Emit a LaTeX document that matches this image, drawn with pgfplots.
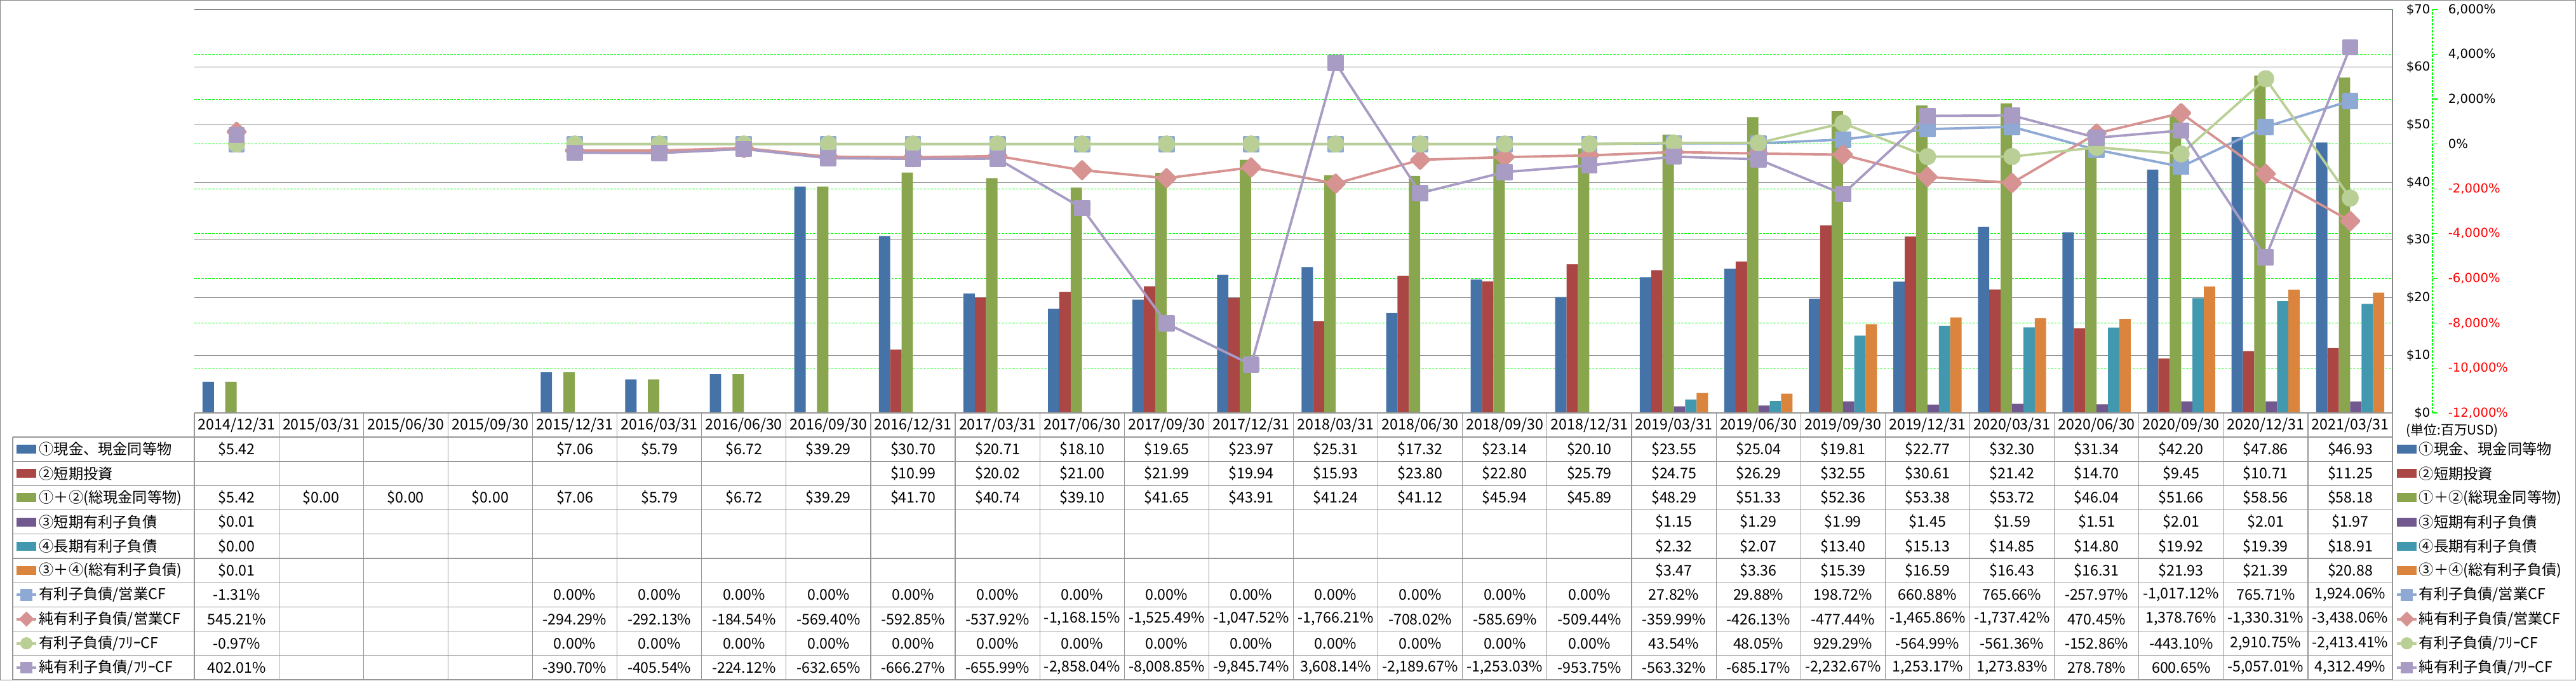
\documentclass[border=0pt]{standalone}
\usepackage{fontspec}
\usepackage{pgfplots}
\usepackage{pgfplotstable}
\pgfplotsset{compat=1.18}
\setmainfont{DejaVu Sans}
\newfontfamily\jp{Noto Sans CJK JP}
\definecolor{cB}{HTML}{4572A7}
\definecolor{cR}{HTML}{AA4643}
\definecolor{cG}{HTML}{89A54E}
\definecolor{cP}{HTML}{71588F}
\definecolor{cT}{HTML}{4198AF}
\definecolor{cO}{HTML}{DB843D}
\definecolor{lA}{HTML}{8FA9D5}
\definecolor{lB}{HTML}{D69391}
\definecolor{lC}{HTML}{BACF95}
\definecolor{lD}{HTML}{A89BC4}
\definecolor{gridgray}{HTML}{868686}
\definecolor{tblgray}{HTML}{969696}
\definecolor{grn}{HTML}{00FF00}
\newcommand\tlf{\fontsize{4.9pt}{5.9pt}\selectfont}
\newcommand\tbf{\jp\fontsize{5.8pt}{6.8pt}\selectfont}

\pgfplotstableread{
x cash sti tot std ltd totd
0 5.42 nan 5.42 0.01 0.00 0.01
1 nan nan 0.00 nan nan nan
2 nan nan 0.00 nan nan nan
3 nan nan 0.00 nan nan nan
4 7.06 nan 7.06 nan nan nan
5 5.79 nan 5.79 nan nan nan
6 6.72 nan 6.72 nan nan nan
7 39.29 nan 39.29 nan nan nan
8 30.70 10.99 41.70 nan nan nan
9 20.71 20.02 40.74 nan nan nan
10 18.10 21.00 39.10 nan nan nan
11 19.65 21.99 41.65 nan nan nan
12 23.97 19.94 43.91 nan nan nan
13 25.31 15.93 41.24 nan nan nan
14 17.32 23.80 41.12 nan nan nan
15 23.14 22.80 45.94 nan nan nan
16 20.10 25.79 45.89 nan nan nan
17 23.55 24.75 48.29 1.15 2.32 3.47
18 25.04 26.29 51.33 1.29 2.07 3.36
19 19.81 32.55 52.36 1.99 13.40 15.39
20 22.77 30.61 53.38 1.45 15.13 16.59
21 32.30 21.42 53.72 1.59 14.85 16.43
22 31.34 14.70 46.04 1.51 14.80 16.31
23 42.20 9.45 51.66 2.01 19.92 21.93
24 47.86 10.71 58.56 2.01 19.39 21.39
25 46.93 11.25 58.18 1.97 18.91 20.88
}\bardata

\pgfplotstableread{
x A B C D
0 -1.31 545.21 -0.97 402.01
1 nan nan nan nan
2 nan nan nan nan
3 nan nan nan nan
4 0 -294.29 0 -390.70
5 0 -292.13 0 -405.54
6 0 -184.54 0 -224.12
7 0 -569.40 0 -632.65
8 0 -592.85 0 -666.27
9 0 -537.92 0 -655.99
10 0 -1168.15 0 -2858.04
11 0 -1525.49 0 -8008.85
12 0 -1047.52 0 -9845.74
13 0 -1766.21 0 3608.14
14 0 -708.02 0 -2189.67
15 0 -585.69 0 -1253.03
16 0 -509.44 0 -953.75
17 27.82 -359.99 43.54 -563.32
18 29.88 -426.13 48.05 -685.17
19 198.72 -477.44 929.29 -2232.67
20 660.88 -1465.86 -564.99 1253.17
21 765.66 -1737.42 -561.36 1273.83
22 -257.97 470.45 -152.86 278.78
23 -1017.12 1378.76 -443.10 600.65
24 765.71 -1330.31 2910.75 -5057.01
25 1924.06 -3438.06 -2413.41 4312.49
}\linedata

\pgfplotsset{
  common/.style={at={(76.5pt,105.25pt)}, anchor=south west,
    width=865.25pt, height=158.75pt, scale only axis,
    xmin=-0.5, xmax=25.5,
    axis x line=none, axis y line*=right,
    y axis line style={draw=none}, xtick=\empty,
    major tick length=0pt, scaled y ticks=false},
}

\newcommand\tblrow[2]{%
  \pgfmathsetmacro\ty{95.75-(#1-0.5)*9.55}%
  \foreach \v [count=\c from 0] in {#2} {%
    \pgfmathsetmacro\tx{76.5+(\c+0.5)*33.279}%
    \node[font=\tbf, inner sep=0pt] at (\tx pt,\ty pt) {\v};}}

\newcommand\barkey[3]{\fill[#3] (#1pt,#2pt-1.75pt) rectangle ++(7.8pt,3.5pt);}
\newcommand\linekey[4]{%
  \draw[#3, line width=1pt] (#1pt,#2pt) -- ++(7.8pt,0pt);
  \pgfmathsetmacro\kx{#1+3.9}%
  \ifcase#4\relax
    \fill[#3] (\kx pt-2.3pt,#2pt-2.3pt) rectangle ++(4.6pt,4.6pt);\or
    \fill[#3] (\kx pt,#2pt+3.0pt) -- (\kx pt+3.0pt,#2pt) -- (\kx pt,#2pt-3.0pt) -- (\kx pt-3.0pt,#2pt) -- cycle;\or
    \fill[#3] (\kx pt,#2pt) circle (2.4pt);\fi}

\begin{document}
\begin{tikzpicture}
\useasboundingbox (0,0) rectangle (1014pt,267.75pt);
\draw[gridgray, line width=0.3pt] (0.15pt,0.15pt) rectangle (1013.85pt,267.6pt);

% percentage grid + labels
\begin{axis}[common,
  ymin=-12000, ymax=6000,
  ytick={-12000,-10000,-8000,-6000,-4000,-2000,0,2000,4000,6000},
  yticklabels={{\textcolor{red}{-12,000\%}},{\textcolor{red}{-10,000\%}},{\textcolor{red}{-8,000\%}},{\textcolor{red}{-6,000\%}},{\textcolor{red}{-4,000\%}},{\textcolor{red}{-2,000\%}},{0\%},{2,000\%},{4,000\%},{6,000\%}},
  yticklabel pos=right,
  yticklabel style={anchor=west, inner xsep=0pt, xshift=21.75pt, font=\tlf},
  ymajorgrids, major grid style={grn, line width=0.3pt, dash pattern=on 0.9pt off 0.5pt},
]
\end{axis}

% dollar bars
\begin{axis}[common,
  ymin=0, ymax=70,
  ytick={0,10,20,30,40,50,60,70},
  yticklabels={\$0,\$10,\$20,\$30,\$40,\$50,\$60,\$70},
  yticklabel pos=right,
  yticklabel style={anchor=east, inner xsep=0pt, xshift=15pt, font=\tlf},
  ymajorgrids, major grid style={gridgray, line width=0.3pt},
  ybar=0pt, bar width=4.475pt,
]
\addplot[fill=cB, draw=none] table[x=x,y=cash]{\bardata};
\addplot[fill=cR, draw=none] table[x=x,y=sti]{\bardata};
\addplot[fill=cG, draw=none] table[x=x,y=tot]{\bardata};
\addplot[fill=cP, draw=none] table[x=x,y=std]{\bardata};
\addplot[fill=cT, draw=none] table[x=x,y=ltd]{\bardata};
\addplot[fill=cO, draw=none] table[x=x,y=totd]{\bardata};
\end{axis}

% ratio lines
\begin{axis}[common, hide axis,
  ymin=-12000, ymax=6000, unbounded coords=jump,
]
\addplot[lA, line width=0.95pt, line join=round, mark=square*, mark size=2.75pt, mark options={draw=none, fill=lA}] table[x=x,y=A]{\linedata};
\addplot[lB, line width=0.95pt, line join=round, mark=square*, mark size=2.5pt, mark options={rotate=45, draw=none, fill=lB}] table[x=x,y=B]{\linedata};
\addplot[lC, line width=0.95pt, line join=round, mark=*, mark size=2.9pt, mark options={draw=none, fill=lC}] table[x=x,y=C]{\linedata};
\addplot[lD, line width=0.95pt, line join=round, mark=square*, mark size=2.75pt, mark options={draw=none, fill=lD}] table[x=x,y=D]{\linedata};
\end{axis}

% right border of plot and secondary axis line
\draw[gridgray, line width=0.3pt] (941.75pt,105.25pt) -- (941.75pt,264pt);
\draw[grn, line width=0.3pt, dash pattern=on 0.9pt off 0.5pt] (957.5pt,105.25pt) -- (957.5pt,264pt);
\foreach \k in {0,...,9} {\pgfmathsetmacro\yy{105.25+\k*17.639}
  \draw[grn, line width=0.3pt] (957.5pt,\yy pt) -- (959.5pt,\yy pt);}
\node[font=\jp\fontsize{5.2pt}{6pt}\selectfont, anchor=west, inner sep=0pt] at (947pt,98.25pt) {(単位:百万USD)};

% table grid
\foreach \c in {0,...,26} {\pgfmathsetmacro\xx{76.5+\c*33.279}
  \draw[tblgray, line width=0.3pt] (\xx pt,105.25pt) -- (\xx pt,0.25pt);}
\draw[tblgray, line width=0.3pt] (76.5pt,105.25pt) -- (941.75pt,105.25pt);
\foreach \k in {0,...,10} {\pgfmathsetmacro\yy{95.75-\k*9.55}
  \draw[tblgray, line width=0.3pt] (5pt,\yy pt) -- (941.75pt,\yy pt);}
\draw[tblgray, line width=0.3pt] (5pt,95.75pt) -- (5pt,0.25pt);

% header
\foreach \v [count=\c from 0] in {2014/12/31,2015/03/31,2015/06/30,2015/09/30,2015/12/31,2016/03/31,2016/06/30,2016/09/30,2016/12/31,2017/03/31,2017/06/30,2017/09/30,2017/12/31,2018/03/31,2018/06/30,2018/09/30,2018/12/31,2019/03/31,2019/06/30,2019/09/30,2019/12/31,2020/03/31,2020/06/30,2020/09/30,2020/12/31,2021/03/31} {%
  \pgfmathsetmacro\tx{76.5+(\c+0.5)*33.279}%
  \node[font=\tbf, inner sep=0pt] at (\tx pt,100.5pt) {\v};}

% table rows
\tblrow{1}{{\$5.42},{},{},{},{\$7.06},{\$5.79},{\$6.72},{\$39.29},{\$30.70},{\$20.71},{\$18.10},{\$19.65},{\$23.97},{\$25.31},{\$17.32},{\$23.14},{\$20.10},{\$23.55},{\$25.04},{\$19.81},{\$22.77},{\$32.30},{\$31.34},{\$42.20},{\$47.86},{\$46.93}}
\tblrow{2}{{},{},{},{},{},{},{},{},{\$10.99},{\$20.02},{\$21.00},{\$21.99},{\$19.94},{\$15.93},{\$23.80},{\$22.80},{\$25.79},{\$24.75},{\$26.29},{\$32.55},{\$30.61},{\$21.42},{\$14.70},{\$9.45},{\$10.71},{\$11.25}}
\tblrow{3}{{\$5.42},{\$0.00},{\$0.00},{\$0.00},{\$7.06},{\$5.79},{\$6.72},{\$39.29},{\$41.70},{\$40.74},{\$39.10},{\$41.65},{\$43.91},{\$41.24},{\$41.12},{\$45.94},{\$45.89},{\$48.29},{\$51.33},{\$52.36},{\$53.38},{\$53.72},{\$46.04},{\$51.66},{\$58.56},{\$58.18}}
\tblrow{4}{{\$0.01},{},{},{},{},{},{},{},{},{},{},{},{},{},{},{},{},{\$1.15},{\$1.29},{\$1.99},{\$1.45},{\$1.59},{\$1.51},{\$2.01},{\$2.01},{\$1.97}}
\tblrow{5}{{\$0.00},{},{},{},{},{},{},{},{},{},{},{},{},{},{},{},{},{\$2.32},{\$2.07},{\$13.40},{\$15.13},{\$14.85},{\$14.80},{\$19.92},{\$19.39},{\$18.91}}
\tblrow{6}{{\$0.01},{},{},{},{},{},{},{},{},{},{},{},{},{},{},{},{},{\$3.47},{\$3.36},{\$15.39},{\$16.59},{\$16.43},{\$16.31},{\$21.93},{\$21.39},{\$20.88}}
\tblrow{7}{{-1.31\%},{},{},{},{0.00\%},{0.00\%},{0.00\%},{0.00\%},{0.00\%},{0.00\%},{0.00\%},{0.00\%},{0.00\%},{0.00\%},{0.00\%},{0.00\%},{0.00\%},{27.82\%},{29.88\%},{198.72\%},{660.88\%},{765.66\%},{-257.97\%},{-1,017.12\%},{765.71\%},{1,924.06\%}}
\tblrow{8}{{545.21\%},{},{},{},{-294.29\%},{-292.13\%},{-184.54\%},{-569.40\%},{-592.85\%},{-537.92\%},{-1,168.15\%},{-1,525.49\%},{-1,047.52\%},{-1,766.21\%},{-708.02\%},{-585.69\%},{-509.44\%},{-359.99\%},{-426.13\%},{-477.44\%},{-1,465.86\%},{-1,737.42\%},{470.45\%},{1,378.76\%},{-1,330.31\%},{-3,438.06\%}}
\tblrow{9}{{-0.97\%},{},{},{},{0.00\%},{0.00\%},{0.00\%},{0.00\%},{0.00\%},{0.00\%},{0.00\%},{0.00\%},{0.00\%},{0.00\%},{0.00\%},{0.00\%},{0.00\%},{43.54\%},{48.05\%},{929.29\%},{-564.99\%},{-561.36\%},{-152.86\%},{-443.10\%},{2,910.75\%},{-2,413.41\%}}
\tblrow{10}{{402.01\%},{},{},{},{-390.70\%},{-405.54\%},{-224.12\%},{-632.65\%},{-666.27\%},{-655.99\%},{-2,858.04\%},{-8,008.85\%},{-9,845.74\%},{3,608.14\%},{-2,189.67\%},{-1,253.03\%},{-953.75\%},{-563.32\%},{-685.17\%},{-2,232.67\%},{1,253.17\%},{1,273.83\%},{278.78\%},{600.65\%},{-5,057.01\%},{4,312.49\%}}

% row labels (left) and legend (right)
\foreach \lab [count=\k] in {①現金、現金同等物,②短期投資,①＋②(総現金同等物),③短期有利子負債,④長期有利子負債,③＋④(総有利子負債),有利子負債/営業CF,純有利子負債/営業CF,有利子負債/ﾌﾘｰCF,純有利子負債/ﾌﾘｰCF} {%
  \pgfmathsetmacro\ty{95.75-(\k-0.5)*9.55}%
  \node[font=\tbf, anchor=west, inner sep=0pt] at (15.25pt,\ty pt) {\lab};
  \node[font=\tbf, anchor=west, inner sep=0pt] at (952pt,\ty pt) {\lab};}

\foreach \col [count=\k] in {cB,cR,cG,cP,cT,cO} {%
  \pgfmathsetmacro\ty{95.75-(\k-0.5)*9.55}%
  \barkey{6.5}{\ty}{\col}
  \barkey{943.5}{\ty}{\col}}

\foreach \col/\shp [count=\k from 7] in {lA/0,lB/1,lC/2,lD/0} {%
  \pgfmathsetmacro\ty{95.75-(\k-0.5)*9.55}%
  \linekey{6.5}{\ty}{\col}{\shp}
  \linekey{943.5}{\ty}{\col}{\shp}}
\end{tikzpicture}
\end{document}
